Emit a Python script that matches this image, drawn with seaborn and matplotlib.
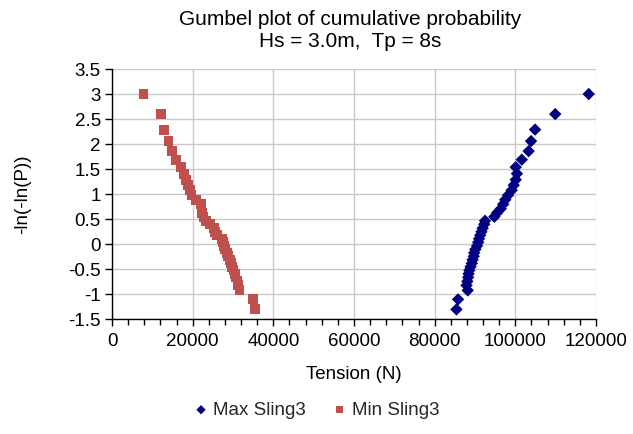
import matplotlib
matplotlib.use("Agg")
import matplotlib.pyplot as plt
from matplotlib.ticker import MultipleLocator
import seaborn as sns
import pandas as pd

# Shared reduced variate values (-ln(-ln(P)))
y_vals = [3.0, 2.6, 2.29, 2.06, 1.86, 1.69, 1.54, 1.41, 1.29, 1.18, 1.08, 0.98,
          0.89, 0.80, 0.71, 0.63, 0.55, 0.47, 0.40, 0.32, 0.25, 0.18, 0.11, 0.04,
          -0.03, -0.10, -0.17, -0.24, -0.31, -0.38, -0.45, -0.52, -0.59, -0.66,
          -0.74, -0.82, -0.92, -1.10, -1.30]

max_sling3 = [118200, 109900, 104900, 103900, 103300, 101600, 100100, 100400, 100100,
              99600, 99100, 98200, 97500, 97000, 96400, 95500, 94800, 92500, 92300,
              91900, 91600, 91300, 91000, 90800, 90500, 90100, 89800, 89700, 89400,
              89200, 88900, 88600, 88400, 88300, 88100, 87900, 88200, 85800, 85400]

min_sling3 = [7800, 12100, 12800, 14000, 14900, 15900, 17100, 17800, 18400, 18800,
              19300, 19700, 20900, 22000, 22200, 22400, 22700, 23200, 24300, 25200,
              25600, 26000, 27300, 27500, 27700, 28100, 28500, 28800, 29200, 29500,
              29800, 30100, 30400, 30600, 31100, 31300, 31600, 35000, 35400]

series_names = ["Max Sling3", "Min Sling3"]
title_text = "Gumbel plot of cumulative probability\nHs = 3.0m,  Tp = 8s"
x_label = "Tension (N)"
y_label = "-ln(-ln(P))"
y_tick_vals = [-1.5, -1, -0.5, 0, 0.5, 1, 1.5, 2, 2.5, 3, 3.5]
y_tick_labels = ["-1.5", "-1", "-0.5", "0", "0.5", "1", "1.5", "2", "2.5", "3", "3.5"]

sns.set_theme(style="white")
plt.rcParams['font.family'] = ['Liberation Sans', 'DejaVu Sans']
FS = 13.5

df_max = pd.DataFrame({"x": max_sling3, "y": y_vals})
df_min = pd.DataFrame({"x": min_sling3, "y": y_vals})

fig = plt.figure(figsize=(6.33, 4.34), dpi=100)
ax = fig.add_axes([0.177, 0.264, 0.7645, 0.577])

sns.scatterplot(data=df_max, x="x", y="y", ax=ax, marker="D", s=40,
                color="#000080", edgecolor="none", label=series_names[0], zorder=3)
sns.scatterplot(data=df_min, x="x", y="y", ax=ax, marker="s", s=50,
                color="#C0504D", edgecolor="none", label=series_names[1], zorder=3)

ax.set_xlim(0, 120000)
ax.set_ylim(-1.5, 3.5)
ax.xaxis.set_major_locator(MultipleLocator(20000))
ax.xaxis.set_minor_locator(MultipleLocator(4000))
ax.set_yticks(y_tick_vals)
ax.set_yticklabels(y_tick_labels)

ax.grid(True, which="major", color="#C8C8C8", linewidth=1.0)
ax.set_axisbelow(True)
for side in ["top", "right"]:
    ax.spines[side].set_visible(False)
for side in ["left", "bottom"]:
    ax.spines[side].set_color("black")
    ax.spines[side].set_linewidth(1.0)

ax.tick_params(axis="both", which="major", direction="out", length=5, width=1,
               color="black", labelsize=FS, labelcolor="black", bottom=True, left=True)
ax.tick_params(axis="x", which="minor", direction="out", length=4, width=1,
               color="black", bottom=True)
ax.tick_params(axis="x", which="major", pad=5)
ax.tick_params(axis="y", which="major", pad=3)

ax.set_xlabel(x_label, fontsize=FS, color="black", labelpad=11)
ax.set_ylabel(y_label, fontsize=FS, color="black", labelpad=27)

fig.text(0.553, 0.978, title_text, fontsize=15, color="black", ha="center", va="top",
         linespacing=1.25)

ax.get_legend().remove()
handles, labels = ax.get_legend_handles_labels()
fig.legend(handles, labels, loc="center", bbox_to_anchor=(0.497, 0.055), ncol=2,
           frameon=False, fontsize=FS, handletextpad=0.05, columnspacing=1.2,
           markerscale=0.75, handlelength=1.2)

fig.savefig("out.png", dpi=100)
